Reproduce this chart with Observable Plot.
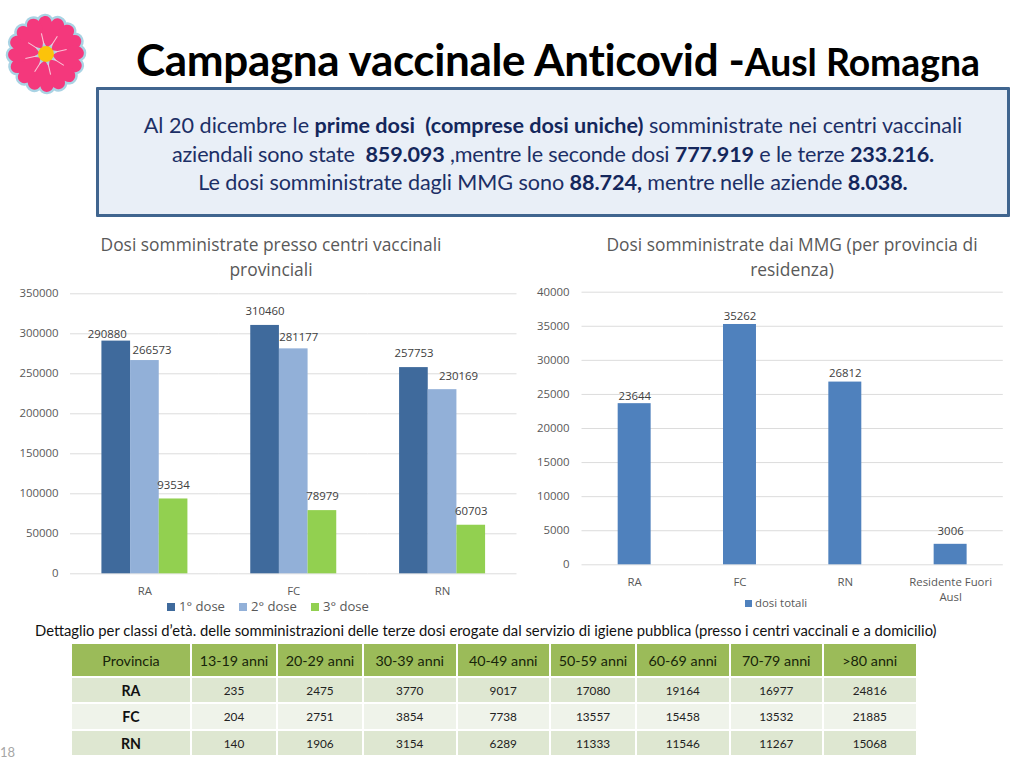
<!DOCTYPE html>
<html lang="it">
<head>
<meta charset="utf-8">
<script src="https://cdn.jsdelivr.net/npm/d3@7"></script>
<script src="https://cdn.jsdelivr.net/npm/@observablehq/plot@0.6"></script>
<style>
  html, body { margin: 0; padding: 0; background: #fff; overflow: hidden; }
  #page { position: relative; width: 1022px; height: 768px; overflow: hidden; font-family: Lato, sans-serif; }
  #page > * { position: absolute; }
  #logo { left: 0; top: 8px; }
  #title { left: 0; width: 1116px; top: 32px; text-align: center; font-weight: 700; font-size: 44px; line-height: 54px; color: #000; white-space: nowrap; letter-spacing: -.35px; }
  #title small { font-size: 37.3px; letter-spacing: 0; }
  #box { left: 96px; top: 87px; width: 908px; height: 124px; border: 3px solid #40658f; background: #e9eff7; border-radius: 1px; color: #1c2f66; font-size: 21.6px; line-height: 28.7px; text-align: center; }
  #box div { position: relative; top: 21px; white-space: nowrap; }
  #box div:nth-child(2) { letter-spacing: -.16px; }
  #box div:nth-child(3) { letter-spacing: -.07px; }
  #box b { color: #14275c; }
  .ctitle { font-family: "Open Sans", sans-serif; font-size: 17.4px; line-height: 24.5px; color: #595959; text-align: center; white-space: nowrap; }
  #t1 { left: 71px; width: 400px; top: 232px; }
  #t2 { left: 572px; width: 440px; top: 232px; }
  .chart svg { display: block; background: transparent; }
  #c1 { left: 0; top: 280px; }
  #c2 { left: 520px; top: 280px; }
  .legend { font-family: "Open Sans", sans-serif; color: #595959; display: flex; align-items: center; white-space: nowrap; }
  .legend i { display: inline-block; margin-right: 4px; }
  #l1 { left: 167px; top: 597px; font-size: 13.1px; height: 18px; gap: 14px; }
  #l1 i { width: 8px; height: 8px; }
  #l2 { left: 745px; top: 593px; font-size: 11.4px; height: 18px; }
  #l2 i { width: 7px; height: 7px; margin-right: 3px; }
  #caption { left: 35px; top: 621px; font-size: 14.8px; line-height: 18px; color: #111; white-space: nowrap; }
  #table { left: 70px; top: 642px; border-collapse: separate; border-spacing: 2px; table-layout: fixed; width: 847.5px; margin: 0; }
  #table th, #table td { padding: 0; text-align: center; vertical-align: middle; }
  #table thead th { background: #9bbb59; height: 32px; font-weight: 400; font-size: 14.3px; color: #17240a; }
  #table tbody td { font-size: 11.8px; color: #222; }
  #table tbody th { font-size: 14.2px; font-weight: 700; color: #111; }
  #table tbody tr { height: 24px; }
  #table tbody tr:nth-child(2) { height: 25px; }
  #table tbody tr:nth-child(odd) > * { background: #dee7d1; }
  #table tbody tr:nth-child(even) > * { background: #eff3ea; }
  #table col:nth-child(1) { width: 118px; }
  #table col:nth-child(2), #table col:nth-child(3), #table col:nth-child(6) { width: 84px; }
  #table col:nth-child(4), #table col:nth-child(5), #table col:nth-child(7), #table col:nth-child(8), #table col:nth-child(9) { width: 91.5px; }
  #pageno { left: 0; top: 743px; font-size: 13px; color: #a6a6a6; line-height: 18px; }
</style>
</head>
<body>
<div id="page"></div>
<script>
// ---------- Data ----------
const mainTitle = "Campagna vaccinale Anticovid -";
const mainTitleTail = "Ausl Romagna";
const summaryLines = [
  "Al 20 dicembre le <b>prime dosi&nbsp; (comprese dosi uniche)</b> somministrate nei centri vaccinali",
  "aziendali sono state&nbsp; <b>859.093</b> ,mentre le seconde dosi <b>777.919</b> e le terze <b>233.216.</b>",
  "Le dosi somministrate dagli MMG sono <b>88.724,</b> mentre nelle aziende <b>8.038.</b>"
];
const chart1Title = ["Dosi somministrate presso centri vaccinali", "provinciali"];
const chart2Title = ["Dosi somministrate dai MMG (per provincia di", "residenza)"];
const provinces = ["RA", "FC", "RN"];
const doses = ["1° dose", "2° dose", "3° dose"];
const firstDose = [290880, 310460, 257753];
const secondDose = [266573, 281177, 230169];
const thirdDose = [93534, 78979, 60703];
const yTicks1 = [0, 50000, 100000, 150000, 200000, 250000, 300000, 350000];

const mmgCategories = ["RA", "FC", "RN", "Residente Fuori Ausl"];
const mmgTotals = [23644, 35262, 26812, 3006];
const mmgSeries = "dosi totali";
const yTicks2 = [0, 5000, 10000, 15000, 20000, 25000, 30000, 35000, 40000];

const tableCaption = "Dettaglio per classi d’età. delle somministrazioni delle terze dosi erogate dal servizio di igiene pubblica (presso i centri vaccinali e a domicilio)";
const tableHeader = ["Provincia", "13-19 anni", "20-29 anni", "30-39 anni", "40-49 anni", "50-59 anni", "60-69 anni", "70-79 anni", ">80 anni"];
const ageRA = [235, 2475, 3770, 9017, 17080, 19164, 16977, 24816];
const ageFC = [204, 2751, 3854, 7738, 13557, 15458, 13532, 21885];
const ageRN = [140, 1906, 3154, 6289, 11333, 11546, 11267, 15068];
const pageNumber = "18";

// ---------- Styles ----------
const doseColors = ["#3f6a9c", "#92b0d8", "#92d050"];
const mmgColor = "#4f81bd";
const gridColor = "#dcdcdc";
const chartFont = { fontFamily: "'Open Sans', sans-serif", fontSize: "11.4px", color: "#595959", background: "transparent" };
const labelColor = "#404040";
const plainNumber = d3.format("d");

const page = document.getElementById("page");
function add(tag, id, html, cls) {
  const el = document.createElement(tag);
  if (id) el.id = id;
  if (cls) el.className = cls;
  if (html != null) el.innerHTML = html;
  page.appendChild(el);
  return el;
}

// ---------- Logo ----------
const heart = "M0,-6 C-4,-11 -13,-19 -12.5,-28 C-12,-36 -3,-38 0,-31 C3,-38 12,-36 12.5,-28 C13,-19 4,-11 0,-6Z";
const petals = d3.range(8).map(i => i * 45 + 10);
add("div", "logo", `<svg width="92" height="92" viewBox="-43.5 -43.5 87 87">
  ${petals.map(a => `<path d="${heart}" transform="rotate(${a})" fill="#a9d3e4" stroke="#a9d3e4" stroke-width="4.5" stroke-linejoin="round"/>`).join("")}
  ${petals.map(a => `<path d="${heart}" transform="rotate(${a})" fill="#f4387c"/>`).join("")}
  ${petals.map(a => `<path d="M0,-9 L0,-20" transform="rotate(${a + 22.5})" stroke="#f9c3d7" stroke-width="1"/>`).join("")}
  <circle r="7.5" fill="#fcc30b"/>
</svg>`);

// ---------- Headline ----------
add("div", "title", `${mainTitle}<small>${mainTitleTail}</small>`);
add("div", "box", summaryLines.map(l => `<div>${l}</div>`).join(""));

// ---------- Left chart ----------
add("div", "t1", chart1Title.join("<br>"), "ctitle");
const doseValues = [firstDose, secondDose, thirdDose];
const doseRows = provinces.flatMap((p, i) =>
  doses.map((d, j) => ({ province: p, dose: d, value: doseValues[j][i] })));
// label placement: [dx, dy] from the top of each bar
const nudges1 = {
  "RA|1° dose": [-9, -7], "RA|2° dose": [7, -10], "RA|3° dose": [0, -14],
  "FC|1° dose": [0, -14], "FC|2° dose": [5, -12], "FC|3° dose": [0, -14],
  "RN|1° dose": [0, -14], "RN|2° dose": [16, -13], "RN|3° dose": [0, -14]
};
const chart1 = Plot.plot({
  width: 530, height: 325,
  marginLeft: 70, marginRight: 13.5, marginTop: 13.3, marginBottom: 31.7,
  style: chartFont,
  fx: { domain: provinces, padding: 0, round: false, label: null },
  x: { domain: doses, axis: null, round: false, paddingInner: 0, paddingOuter: 1.096 },
  y: { domain: [0, 350000], label: null },
  color: { domain: doses, range: doseColors },
  marks: [
    Plot.gridY(yTicks1, { stroke: gridColor, strokeOpacity: 1 }),
    Plot.axisY(yTicks1, { tickSize: 0, tickPadding: 12, label: null, tickFormat: plainNumber }),
    Plot.axisFx({ anchor: "bottom", tickSize: 0, tickPadding: 13, label: null }),
    Plot.barY(doseRows, { fx: "province", x: "dose", y: "value", fill: "dose" }),
    ...Object.entries(nudges1).map(([k, [dx, dy]]) => {
      const [p, d] = k.split("|");
      return Plot.text(doseRows.filter(r => r.province === p && r.dose === d), {
        fx: "province", x: "dose", y: "value", text: r => String(r.value),
        dx, dy, fill: labelColor
      });
    })
  ]
});
add("div", "c1", null, "chart").appendChild(chart1);
add("div", "l1", doses.map((d, i) => `<span><i style="background:${doseColors[i]}"></i>${d}</span>`).join(""), "legend");

// ---------- Right chart ----------
add("div", "t2", chart2Title.join("<br>"), "ctitle");
const mmgRows = mmgCategories.map((c, i) => ({ category: c, value: mmgTotals[i] }));
const nudges2 = { "RA": -7, "FC": -8.5, "RN": -8.5, "Residente Fuori Ausl": -13 };
const chart2 = Plot.plot({
  width: 502, height: 340,
  marginLeft: 61.5, marginRight: 19.2, marginTop: 11.7, marginBottom: 55.7,
  style: chartFont,
  x: { domain: mmgCategories, round: false, paddingInner: 0.687, paddingOuter: 0.3435, label: null },
  y: { domain: [0, 40000], label: null },
  marks: [
    Plot.gridY(yTicks2, { stroke: gridColor, strokeOpacity: 1 }),
    Plot.axisY(yTicks2, { tickSize: 0, tickPadding: 12.5, label: null, tickFormat: plainNumber }),
    Plot.axisX({ tickSize: 0, tickPadding: 10, label: null, lineWidth: 8, lineHeight: 1.35 }),
    Plot.barY(mmgRows, { x: "category", y: "value", fill: mmgColor }),
    ...mmgRows.map(r => Plot.text([r], {
      x: "category", y: "value", text: d => String(d.value), dy: nudges2[r.category], fill: labelColor
    }))
  ]
});
add("div", "c2", null, "chart").appendChild(chart2);
add("div", "l2", `<span><i style="background:${mmgColor}"></i>${mmgSeries}</span>`, "legend");

// ---------- Table ----------
add("div", "caption", tableCaption);
const ageRows = [ageRA, ageFC, ageRN];
add("table", "table",
  `<colgroup>${tableHeader.map(() => "<col>").join("")}</colgroup>` +
  `<thead><tr>${tableHeader.map(h => `<th>${h.replace(">", "&gt;")}</th>`).join("")}</tr></thead>` +
  `<tbody>${provinces.map((p, i) => `<tr><th>${p}</th>${ageRows[i].map(v => `<td>${v}</td>`).join("")}</tr>`).join("")}</tbody>`);

add("div", "pageno", pageNumber);
</script>
</body>
</html>
